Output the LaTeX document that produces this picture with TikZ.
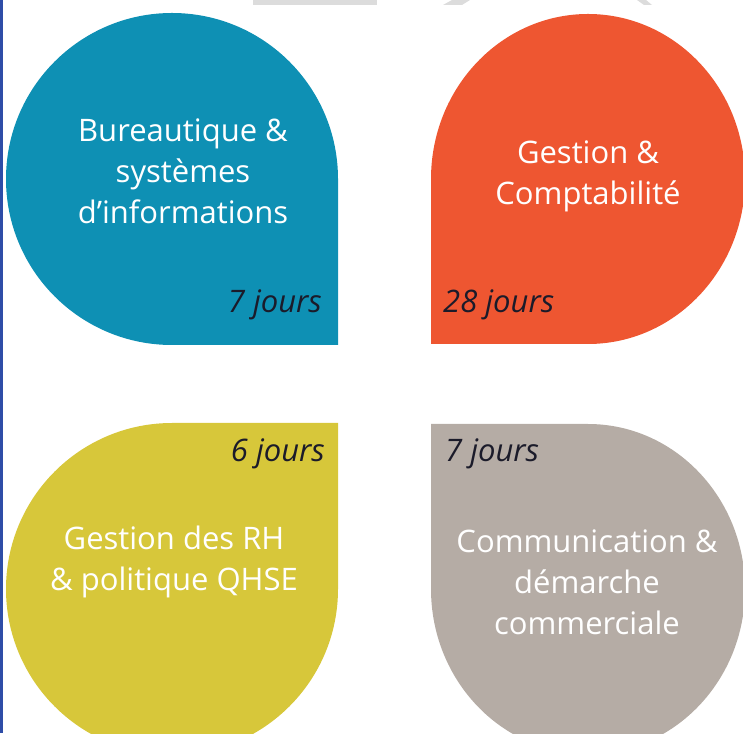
\documentclass[tikz,border=0pt]{standalone}
\usepackage{fontspec}
\setmainfont{Open Sans}
\usepackage{tikz}
\usetikzlibrary{positioning}

\definecolor{petblue}{HTML}{0E90B4}
\definecolor{petorange}{HTML}{EE5631}
\definecolor{petyellow}{HTML}{D7C73A}
\definecolor{petgray}{HTML}{B5ACA5}
\definecolor{daytext}{HTML}{1B1B2A}
\definecolor{edgeblue}{HTML}{2E4DA7}
\definecolor{topgray}{HTML}{DCDCDC}

\begin{document}
\begin{tikzpicture}[x=1pt, y=1pt]
  \tikzset{
    title/.style={text=white, align=center, inner sep=0pt,
                  font=\fontsize{31}{41}\selectfont},
    days/.style={text=daytext, inner sep=0pt,
                 font=\fontsize{31}{36}\selectfont\itshape}
  }
  \useasboundingbox (0,0) rectangle (743,733);
  \clip (0,0) rectangle (743,733);
  % Edge line and cut-off pieces at the top
  \fill[edgeblue] (0,0) rectangle (3,733);
  \fill[topgray] (253,728) rectangle (377,733);
  \fill[topgray] (443,728) -- (452,733) -- (470,733) -- (462,728) -- cycle;
  \fill[topgray] (637,733) -- (646,733) -- (652,728) -- (644,728) -- cycle;
  % Petals: round, with one square corner to the middle
  \fill[petblue] (172,388) arc[start angle=270, end angle=0, radius=166]
    -- (338,388) -- cycle;
  \fill[petorange] (431,554) arc[start angle=180, end angle=-90,
    x radius=157, y radius=165] -- (431,389) -- cycle;
  \fill[petyellow] (172,310) arc[start angle=90, end angle=360, radius=166]
    -- (338,310) -- cycle;
  \fill[petgray] (588,309) arc[start angle=90, end angle=-180,
    x radius=157, y radius=165] -- (431,309) -- cycle;
  % Titles
  \node[title] (bureau) at (183,562) {Bureautique \&\\systèmes\\d’informations};
  \node[title] (gestion) at (588,557) {Gestion \&\\Comptabilité};
  \node[title] (rh) at (174,171) {Gestion des RH\\\& politique QHSE};
  \node[title] (comm) at (587,151) {Communication \&\\démarche\\commerciale};
  % Durations
  \node[days, anchor=east] (bureauJ) at (322,428) {7 jours};
  \node[days, anchor=west] (gestionJ) at (443,428) {28 jours};
  \node[days, anchor=east] (rhJ) at (325,279) {6 jours};
  \node[days, anchor=west] (commJ) at (445,279) {7 jours};
\end{tikzpicture}
\end{document}
